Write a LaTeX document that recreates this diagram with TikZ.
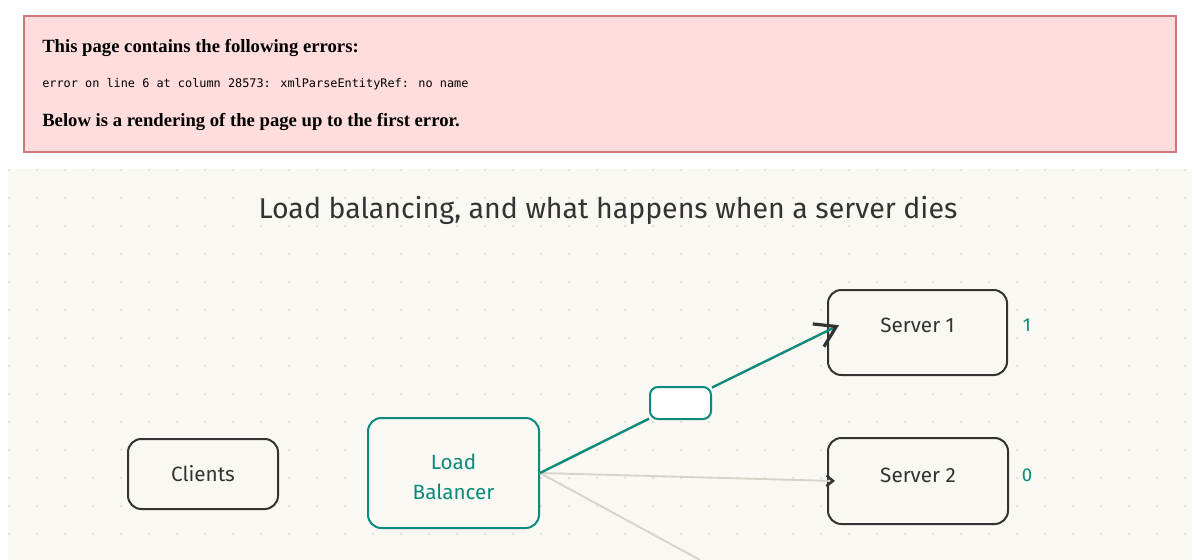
\documentclass[tikz,border=0pt]{standalone}
\usepackage{fontspec}
\setmainfont{Liberation Serif}
\newfontfamily\monofont{DejaVu Sans Mono}
\newfontfamily\handfont{Fira Sans}
\usetikzlibrary{arrows.meta}

\definecolor{errfill}{HTML}{FFDDDD}
\definecolor{errline}{HTML}{D27775}
\definecolor{paper}{HTML}{F9F8F3}
\definecolor{dotc}{HTML}{DEDBD1}
\definecolor{ink}{HTML}{333333}
\definecolor{tealc}{HTML}{0E8A7D}
\definecolor{fadec}{HTML}{D6D3C8}

\newcommand{\lift}[2]{\raisebox{#1}[\height][\depth]{#2}}

\tikzset{
  box/.style={draw=ink, line width=1.5pt, rounded corners=10pt, fill=paper,
    inner sep=0pt, text=ink, font=\handfont\fontsize{15.5}{22.5}\selectfont},
  lbbox/.style={box, draw=tealc, text=tealc, align=center},
  packet/.style={draw=tealc, line width=1.5pt, rounded corners=6pt, fill=white,
    minimum width=45.75pt, minimum height=24pt},
  count/.style={text=tealc, font=\handfont\fontsize{14}{16}\selectfont},
  live/.style={draw=tealc, line width=1.8pt},
  dead/.style={draw=fadec, line width=1.4pt},
  errtitle/.style={anchor=west, inner sep=0pt, font=\bfseries\fontsize{14}{16}\selectfont}
}

\begin{document}
\begin{tikzpicture}[x=0.75pt, y=-0.75pt, >=stealth]
    \useasboundingbox (0,0) rectangle (1200,560);

    \draw[fill=errfill, draw=errline, line width=1pt] (24,16) rectangle (1176,152);
    \node[errtitle] (errhead) at (42,48) {This page contains the following errors:};
    \node[anchor=west, inner sep=0pt, font=\monofont\fontsize{8.9}{10}\selectfont] (errmsg) at (42,84)
        {error on line 6 at column 28573: xmlParseEntityRef: no name};
    \node[errtitle] (errfoot) at (42,122) {Below is a rendering of the page up to the first error.};

    \fill[paper] (8,169) rectangle (1192,560);
    \foreach \i in {0,...,42}
        \foreach \j in {0,...,13}
            \fill[dotc] (9+28*\i,170+28*\j) circle (1.1);

    \node[text=ink, font=\handfont\fontsize{21.4}{25}\selectfont] (title) at (608,210)
        {Load balancing, and what happens when a server dies};

    \node[box, minimum width=112.5pt, minimum height=52.5pt] (clients) at (203,474) {Clients};
    \node[lbbox, minimum width=128.25pt, minimum height=82.5pt] (lb) at (453.5,473)
        {\lift{-3pt}{Load}\\\lift{-3pt}{Balancer}};
    \node[box, minimum width=134.25pt, minimum height=63.75pt] (srvA) at (917.5,332.5) {\lift{5.25pt}{Server 1}};
    \node[box, minimum width=135pt, minimum height=64.5pt] (srvB) at (918,481) {\lift{4.5pt}{Server 2}};
    \coordinate (srvC) at (700,560);

    \node[count] (cntA) at (1027,325) {1};
    \node[count] (cntB) at (1027,475) {0};

    \node[packet] (pkt) at (680.5,403) {};

    \draw[dead] (lb.east) -- (srvC);
    \draw[dead, -{Straight Barb[length=5pt, width=8pt, line width=1.8pt, color=ink]}]
        (lb.east) -- ([xshift=6pt]srvB.west);
    \draw[live] (lb.east) -- (pkt);
    \draw[live, -{Straight Barb[length=15pt, width=19pt, line width=2.4pt, color=ink]}]
        (pkt) -- ([xshift=9pt, yshift=5.5pt]srvA.west);
\end{tikzpicture}
\end{document}
